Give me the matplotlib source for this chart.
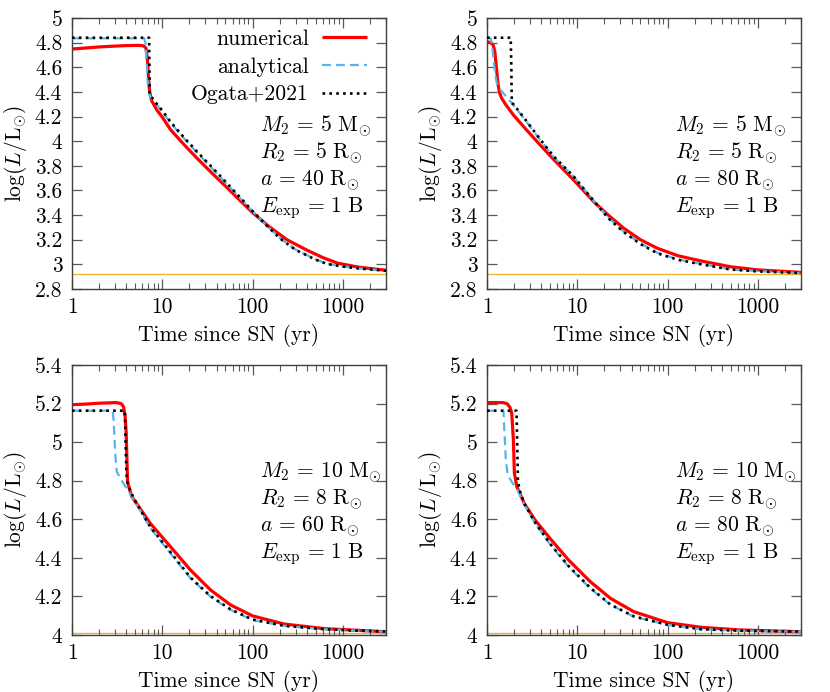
import matplotlib
matplotlib.use("Agg")
import matplotlib.pyplot as plt
from matplotlib.ticker import FixedLocator, FixedFormatter, LogLocator, NullFormatter, NullLocator

plt.rcParams['font.family'] = ['cmr10', 'DejaVu Serif']
plt.rcParams['mathtext.fontset'] = 'cm'
plt.rcParams['axes.unicode_minus'] = False
plt.rcParams['axes.formatter.use_mathtext'] = True

# ---------------- data ----------------
# panel 1: M2=5, R2=5, a=40
p1_num_t = [1, 1.5, 2, 3, 4, 5.5, 6.2, 6.6, 6.85, 7.05, 7.25, 7.6, 8.7, 10, 12.3, 17, 24, 35, 50, 70, 100, 150, 240, 400, 600, 870, 1500, 3000]
p1_num_v = [4.748, 4.758, 4.765, 4.772, 4.776, 4.778, 4.774, 4.755, 4.66, 4.50, 4.40, 4.33, 4.253, 4.195, 4.095, 3.98, 3.865, 3.745, 3.635, 3.53, 3.42, 3.31, 3.2, 3.115, 3.055, 3.01, 2.977, 2.952]
p1_ana_t = [1, 6.3, 6.5, 6.75, 6.95, 7.1, 7.5, 8.7, 10, 12.3, 17, 24, 35, 50, 70, 100, 150, 203, 300, 500, 670, 1000, 1500, 3000]
p1_ana_v = [4.835, 4.835, 4.80, 4.60, 4.45, 4.39, 4.35, 4.294, 4.24, 4.15, 4.03, 3.91, 3.785, 3.665, 3.55, 3.43, 3.30, 3.21, 3.12, 3.04, 3.005, 2.983, 2.968, 2.948]
p1_oga_t = [1, 7.15, 7.2, 7.25, 7.6, 8.7, 10, 12.3, 17, 24, 35, 50, 70, 100, 150, 203, 300, 500, 670, 1000, 1500, 3000]
p1_oga_v = [4.84, 4.84, 4.60, 4.38, 4.358, 4.302, 4.248, 4.158, 4.038, 3.918, 3.793, 3.672, 3.556, 3.432, 3.30, 3.208, 3.117, 3.038, 3.003, 2.982, 2.967, 2.948]

# panel 2: M2=5, R2=5, a=80
p2_num_t = [1, 1.1, 1.17, 1.22, 1.27, 1.32, 1.37, 1.45, 1.6, 1.96, 2.6, 3.88, 5.5, 9.1, 15.2, 22, 32.7, 50, 76.8, 130, 233, 500, 1000, 3000]
p2_num_v = [4.808, 4.80, 4.78, 4.73, 4.60, 4.47, 4.40, 4.35, 4.30, 4.213, 4.11, 3.969, 3.85, 3.685, 3.509, 3.40, 3.293, 3.20, 3.131, 3.07, 3.028, 2.98, 2.955, 2.935]
p2_ana_t = [1, 1.1, 1.13, 1.2, 1.26, 1.3, 1.4, 1.96, 2.6, 3.88, 5.5, 9.1, 15.2, 22, 32.7, 50, 76.8, 130, 214, 500, 1000, 3000]
p2_ana_v = [4.835, 4.835, 4.80, 4.62, 4.50, 4.46, 4.42, 4.294, 4.18, 4.01, 3.87, 3.712, 3.515, 3.38, 3.266, 3.17, 3.095, 3.04, 3.009, 2.96, 2.945, 2.93]
p2_oga_t = [1, 1.83, 1.86, 1.88, 1.96, 2.6, 3.88, 5.5, 9.1, 15.2, 22, 32.7, 50, 76.8, 130, 214, 500, 1000, 3000]
p2_oga_v = [4.84, 4.84, 4.60, 4.31, 4.30, 4.185, 4.015, 3.875, 3.715, 3.515, 3.375, 3.262, 3.165, 3.09, 3.037, 3.006, 2.958, 2.943, 2.93]

# panel 3: M2=10, R2=8, a=60
p3_num_t = [1, 1.5, 2, 3.1, 3.5, 3.72, 3.88, 3.98, 4.05, 4.12, 4.3, 4.6, 5.5, 7.36, 12.3, 20.5, 34.1, 57, 100, 223, 621, 1228, 3000]
p3_num_v = [5.194, 5.198, 5.202, 5.205, 5.200, 5.184, 5.13, 5.05, 4.925, 4.80, 4.76, 4.717, 4.665, 4.579, 4.458, 4.337, 4.234, 4.156, 4.099, 4.057, 4.033, 4.026, 4.017]
p3_ana_t = [1, 2.83, 2.9, 3.0, 3.13, 3.56, 5.23, 7.36, 12.3, 20.5, 34.1, 57, 100, 223, 621, 1228, 3000]
p3_ana_v = [5.163, 5.163, 5.10, 4.95, 4.847, 4.80, 4.675, 4.555, 4.424, 4.294, 4.199, 4.13, 4.078, 4.047, 4.03, 4.024, 4.017]
p3_oga_t = [1, 3.85, 3.92, 4.0, 4.1, 4.6, 5.23, 7.36, 12.3, 20.5, 34.1, 57, 100, 223, 621, 1228, 3000]
p3_oga_v = [5.163, 5.163, 5.00, 4.85, 4.79, 4.73, 4.68, 4.56, 4.43, 4.298, 4.202, 4.133, 4.08, 4.048, 4.03, 4.024, 4.018]

# panel 4: M2=10, R2=8, a=80
p4_num_t = [1, 1.5, 1.66, 1.8, 1.88, 1.96, 2.01, 2.14, 2.6, 3.41, 5.0, 8.0, 13.9, 23.3, 42.2, 100, 233, 647, 3000]
p4_num_v = [5.205, 5.205, 5.20, 5.18, 5.15, 5.011, 4.839, 4.769, 4.68, 4.596, 4.50, 4.389, 4.277, 4.19, 4.121, 4.064, 4.04, 4.026, 4.017]
p4_ana_t = [1, 1.52, 1.56, 1.62, 1.70, 1.9, 2.14, 2.6, 3.41, 5.0, 8.0, 13.9, 23.3, 42.2, 100, 233, 647, 3000]
p4_ana_v = [5.163, 5.163, 5.05, 4.90, 4.83, 4.79, 4.76, 4.675, 4.579, 4.47, 4.354, 4.242, 4.156, 4.095, 4.052, 4.03, 4.022, 4.017]
p4_oga_t = [1, 2.12, 2.16, 2.2, 2.3, 2.6, 3.41, 5.0, 8.0, 13.9, 23.3, 42.2, 100, 233, 647, 3000]
p4_oga_v = [5.163, 5.163, 5.0, 4.80, 4.75, 4.68, 4.583, 4.473, 4.358, 4.245, 4.158, 4.097, 4.053, 4.03, 4.022, 4.018]

baseline_top = 2.925
baseline_bot = 4.012

x_ticks = [1, 10, 100, 1000]
x_ticklabels = ['1', '10', '100', '1000']
y_ticks_top = [2.8, 3.0, 3.2, 3.4, 3.6, 3.8, 4.0, 4.2, 4.4, 4.6, 4.8, 5.0]
y_ticklabels_top = ['2.8', '3', '3.2', '3.4', '3.6', '3.8', '4', '4.2', '4.4', '4.6', '4.8', '5']
y_ticks_bot = [4.0, 4.2, 4.4, 4.6, 4.8, 5.0, 5.2, 5.4]
y_ticklabels_bot = ['4', '4.2', '4.4', '4.6', '4.8', '5', '5.2', '5.4']

annotations = [
    [r'$M_2\,=\,5\ \mathrm{M}_{\odot}$', r'$R_2\,=\,5\ \mathrm{R}_{\odot}$', r'$a\,=\,40\ \mathrm{R}_{\odot}$', r'$E_{\mathrm{exp}}\,=\,1\ \mathrm{B}$'],
    [r'$M_2\,=\,5\ \mathrm{M}_{\odot}$', r'$R_2\,=\,5\ \mathrm{R}_{\odot}$', r'$a\,=\,80\ \mathrm{R}_{\odot}$', r'$E_{\mathrm{exp}}\,=\,1\ \mathrm{B}$'],
    [r'$M_2\,=\,10\ \mathrm{M}_{\odot}$', r'$R_2\,=\,8\ \mathrm{R}_{\odot}$', r'$a\,=\,60\ \mathrm{R}_{\odot}$', r'$E_{\mathrm{exp}}\,=\,1\ \mathrm{B}$'],
    [r'$M_2\,=\,10\ \mathrm{M}_{\odot}$', r'$R_2\,=\,8\ \mathrm{R}_{\odot}$', r'$a\,=\,80\ \mathrm{R}_{\odot}$', r'$E_{\mathrm{exp}}\,=\,1\ \mathrm{B}$'],
]

panels = [
    (p1_num_t, p1_num_v, p1_ana_t, p1_ana_v, p1_oga_t, p1_oga_v),
    (p2_num_t, p2_num_v, p2_ana_t, p2_ana_v, p2_oga_t, p2_oga_v),
    (p3_num_t, p3_num_v, p3_ana_t, p3_ana_v, p3_oga_t, p3_oga_v),
    (p4_num_t, p4_num_v, p4_ana_t, p4_ana_v, p4_oga_t, p4_oga_v),
]

# ---------------- figure ----------------
W, H = 830, 692
fig = plt.figure(figsize=(W / 100, H / 100), dpi=100)

def rect(l, r, t, b):
    return [l / W, 1 - b / H, (r - l) / W, (b - t) / H]

rects = [rect(72, 386, 18, 289), rect(487, 801, 18, 289),
         rect(72, 386, 365, 635), rect(487, 801, 365, 635)]

FS = 15.5
red = '#ff0000'
blue = '#56b4e9'
orange = '#f2b23a'

for i, (r, pdat) in enumerate(zip(rects, panels)):
    ax = fig.add_axes(r)
    nt, nv, at, av, ot, ov = pdat
    top = i < 2
    base = baseline_top if top else baseline_bot
    ax.axhline(base, color=orange, lw=1.0, zorder=1)
    ax.plot(nt, nv, color=red, lw=2.3, zorder=2, label='numerical', solid_capstyle='butt')
    ax.plot(at, av, color=blue, lw=1.6, dashes=(4.0, 2.3), zorder=3, label='analytical')
    ax.plot(ot, ov, color='black', lw=1.9, dashes=(1.0, 1.6), zorder=4, label='Ogata+2021')
    ax.set_xscale('log')
    ax.set_xlim(1, 3000)
    if top:
        ax.set_ylim(2.8, 5.0)
        ax.yaxis.set_major_locator(FixedLocator(y_ticks_top))
        ax.yaxis.set_major_formatter(FixedFormatter(y_ticklabels_top))
    else:
        ax.set_ylim(4.0, 5.4)
        ax.yaxis.set_major_locator(FixedLocator(y_ticks_bot))
        ax.yaxis.set_major_formatter(FixedFormatter(y_ticklabels_bot))
    ax.yaxis.set_minor_locator(NullLocator())
    ax.xaxis.set_major_locator(FixedLocator(x_ticks))
    ax.xaxis.set_major_formatter(FixedFormatter(x_ticklabels))
    ax.xaxis.set_minor_locator(LogLocator(base=10, subs=[2, 3, 4, 5, 6, 7, 8, 9], numticks=20))
    ax.xaxis.set_minor_formatter(NullFormatter())
    ax.tick_params(which='both', direction='in', top=True, right=True, color='0.35', labelsize=FS)
    ax.tick_params(which='major', length=7.5, width=0.9)
    ax.tick_params(which='minor', length=4, width=0.8)
    ax.tick_params(axis='y', pad=7)
    ax.tick_params(axis='x', pad=6)
    for s in ax.spines.values():
        s.set_color('0.25')
        s.set_linewidth(1.0)
    ax.set_xlabel('Time since SN (yr)', fontsize=FS)
    ax.set_ylabel(r'$\log(L/\mathrm{L}_{\odot})$', fontsize=FS)
    ax.xaxis.set_label_coords(0.5, -0.128)
    ax.yaxis.set_label_coords(-0.138, 0.5)
    for k, txt in enumerate(annotations[i]):
        ax.text(0.598, 0.582 - 0.0995 * k, txt, transform=ax.transAxes, fontsize=FS,
                ha='left', va='baseline')
    if i == 0:
        ax.legend(loc='upper right', bbox_to_anchor=(0.939, 0.958), frameon=False,
                  markerfirst=False, handlelength=2.1, handletextpad=0.6,
                  labelspacing=0.38, borderpad=0, borderaxespad=0, fontsize=FS)

fig.savefig('out.png', dpi=100)
